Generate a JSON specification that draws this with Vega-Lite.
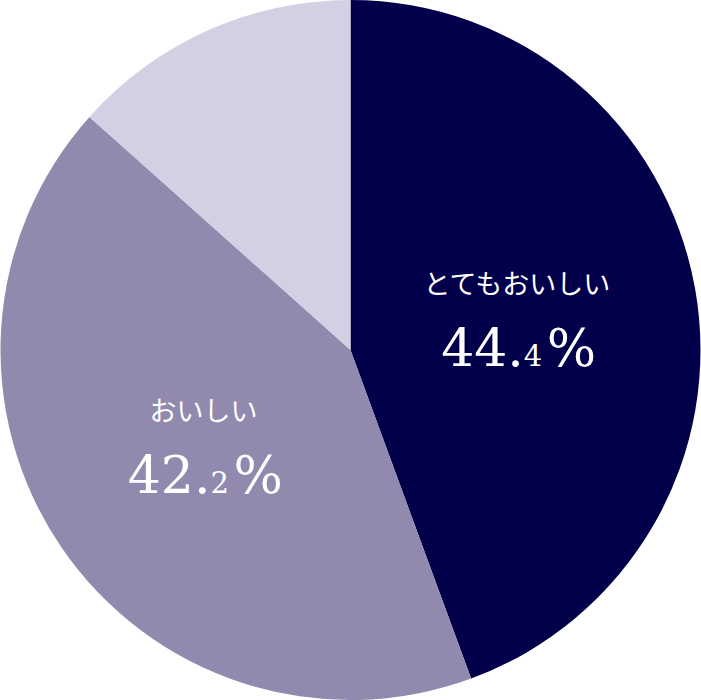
{
  "$schema": "https://vega.github.io/schema/vega-lite/v6.json",
  "width": 701,
  "height": 700,
  "autosize": {"type": "fit", "contains": "padding"},
  "padding": 0,
  "background": "#ffffff",
  "config": {"view": {"stroke": null}},
  "data": {
    "values": [
      {"answer": "とてもおいしい", "value": 44.4, "whole": "44.", "decimal": "4", "pct": "%"},
      {"answer": "おいしい", "value": 42.2, "whole": "42.", "decimal": "2", "pct": "%"},
      {"answer": "", "value": 13.4, "whole": "", "decimal": "", "pct": ""}
    ]
  },
  "encoding": {
    "theta": {"field": "value", "type": "quantitative", "stack": true},
    "order": {"field": "value", "type": "quantitative", "sort": "descending"}
  },
  "layer": [
    {
      "mark": {"type": "arc", "outerRadius": 350, "stroke": null},
      "encoding": {
        "color": {
          "field": "answer",
          "type": "nominal",
          "legend": null,
          "scale": {
            "domain": ["とてもおいしい", "おいしい", ""],
            "range": ["#02004a", "#9189ae", "#d3d0e4"]
          }
        }
      }
    },
    {
      "mark": {"type": "text", "radius": 173, "dx": -4, "dy": -34, "baseline": "middle", "align": "center", "color": "#ffffff", "font": "Noto Sans CJK JP", "fontSize": 27},
      "encoding": {"text": {"field": "answer"}}
    },
    {
      "mark": {"type": "text", "radius": 173, "dx": 3, "dy": 46, "baseline": "alphabetic", "align": "right", "color": "#ffffff", "font": "DejaVu Serif", "fontSize": 52},
      "encoding": {"text": {"field": "whole"}}
    },
    {
      "mark": {"type": "text", "radius": 173, "dx": 3, "dy": 46, "baseline": "alphabetic", "align": "left", "color": "#ffffff", "font": "DejaVu Serif", "fontSize": 29},
      "encoding": {"text": {"field": "decimal"}}
    },
    {
      "mark": {"type": "text", "radius": 173, "dx": 26, "dy": 46, "baseline": "alphabetic", "align": "left", "color": "#ffffff", "font": "DejaVu Serif", "fontSize": 52},
      "encoding": {"text": {"field": "pct"}}
    }
  ]
}
